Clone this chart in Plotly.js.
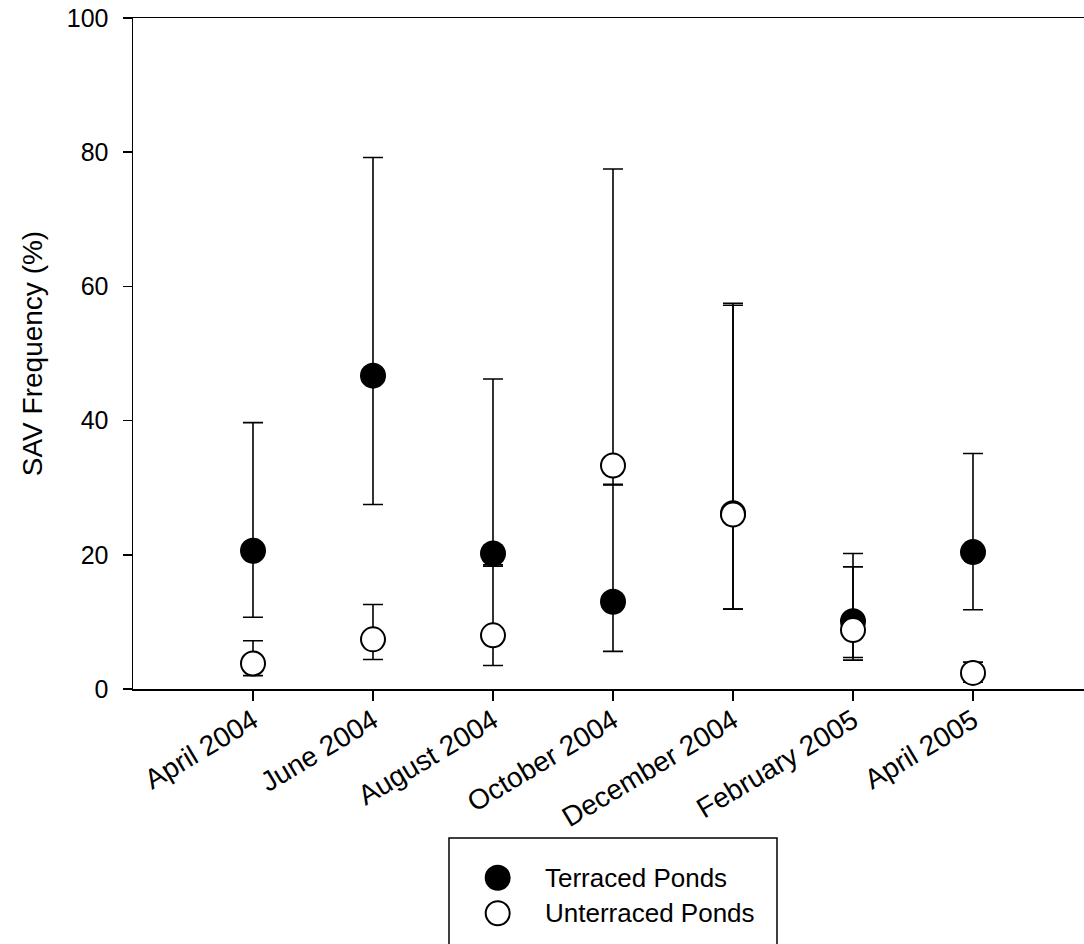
<!DOCTYPE html>
<html>
<head>
<meta charset="utf-8">
<script src="https://cdn.plot.ly/plotly-3.0.1.min.js"></script>
<style>html,body{margin:0;padding:0;background:#fff;}</style>
</head>
<body>
<div id="chart" style="width:1084px;height:944px;"></div>
<script>
var categories = ["April 2004","June 2004","August 2004","October 2004","December 2004","February 2005","April 2005"];
var terraced = [20.6, 46.7, 20.2, 13.0, 26.2, 10.1, 20.4];
var terracedUpper = [39.7, 79.2, 46.2, 30.4, 57.5, 20.2, 35.1];
var terracedLower = [10.7, 27.5, 18.3, 5.6, 11.9, 4.3, 11.8];
var unterraced = [3.8, 7.4, 8.0, 33.3, 26.0, 8.8, 2.4];
var unterracedUpper = [7.2, 12.6, 18.5, 77.5, 57.2, 18.2, 4.0];
var unterracedLower = [2.0, 4.4, 3.5, 30.5, 11.9, 4.7, 1.0];
var yTicks = [0, 20, 40, 60, 80, 100];
var seriesNames = ["Terraced Ponds", "Unterraced Ponds"];

var FONT = '"Liberation Sans", Arial, Helvetica, sans-serif';

function diffs(a, b) { return a.map(function (v, i) { return Math.abs(v - b[i]); }); }

var traces = [
  {
    type: 'scatter', mode: 'markers', name: seriesNames[0],
    x: categories, y: terraced,
    marker: { color: '#000', size: 26, line: { width: 0 } },
    error_y: { type: 'data', symmetric: false,
      array: diffs(terracedUpper, terraced), arrayminus: diffs(terraced, terracedLower),
      color: '#000', thickness: 1.6, width: 10 },
    showlegend: false, cliponaxis: false
  },
  {
    type: 'scatter', mode: 'markers', name: seriesNames[1],
    x: categories, y: unterraced,
    marker: { color: '#fff', size: 24, line: { color: '#000', width: 2 } },
    error_y: { type: 'data', symmetric: false,
      array: diffs(unterracedUpper, unterraced), arrayminus: diffs(unterraced, unterracedLower),
      color: '#000', thickness: 1.6, width: 10 },
    showlegend: false, cliponaxis: false
  }
];

// legend drawn as a box with marker symbols and text
var L = 133, T = 18, W = 951, H = 671;
function px(x) { return (x - L) / W; }
function py(y) { return (T + H - y) / H; }

var shapes = [
  { type: 'rect', xref: 'paper', yref: 'paper', x0: px(449), x1: px(777), y0: py(838), y1: py(960),
    line: { color: '#000', width: 1.5 }, fillcolor: 'rgba(0,0,0,0)' },
  { type: 'circle', xref: 'paper', yref: 'paper', xsizemode: 'pixel', ysizemode: 'pixel',
    xanchor: px(497.7), yanchor: py(877.7), x0: -13, x1: 13, y0: -13, y1: 13,
    fillcolor: '#000', line: { color: '#000', width: 0 } },
  { type: 'circle', xref: 'paper', yref: 'paper', xsizemode: 'pixel', ysizemode: 'pixel',
    xanchor: px(497.7), yanchor: py(913.3), x0: -12, x1: 12, y0: -12, y1: 12,
    fillcolor: '#fff', line: { color: '#000', width: 2 } }
];
var annotations = [
  { xref: 'paper', yref: 'paper', x: px(543), y: py(877.7), xanchor: 'left', yanchor: 'middle',
    text: seriesNames[0], showarrow: false, font: { family: FONT, size: 26, color: '#000' } },
  { xref: 'paper', yref: 'paper', x: px(543), y: py(913.3), xanchor: 'left', yanchor: 'middle',
    text: seriesNames[1], showarrow: false, font: { family: FONT, size: 26, color: '#000' } }
];

var layout = {
  width: 1084, height: 944,
  margin: { l: L, r: 0, t: T, b: 944 - T - H, pad: 0 },
  paper_bgcolor: '#fff', plot_bgcolor: '#fff',
  font: { family: FONT, color: '#000' },
  showlegend: false,
  xaxis: {
    type: 'category', range: [-1, 6.925], fixedrange: true,
    showgrid: false, zeroline: false,
    showline: true, linecolor: '#000', linewidth: 1.5, mirror: true,
    ticks: 'outside', ticklen: 10, tickwidth: 1.5, tickcolor: '#000',
    ticklabelstandoff: -7,
    tickangle: -31, tickfont: { family: FONT, size: 28, color: '#000' }
  },
  yaxis: {
    range: [0, 100], fixedrange: true,
    tickmode: 'array', tickvals: yTicks, ticktext: yTicks.map(String),
    showgrid: false, zeroline: false,
    showline: true, linecolor: '#000', linewidth: 1.5, mirror: false,
    ticks: 'outside', ticklen: 9, tickwidth: 1.5, tickcolor: '#000',
    ticklabelstandoff: 9,
    tickfont: { family: FONT, size: 25, color: '#000' },
    title: { text: 'SAV Frequency (%)', font: { family: FONT, size: 28, color: '#000' }, standoff: 16 }
  },
  shapes: shapes,
  annotations: annotations
};

Plotly.newPlot('chart', traces, layout, { staticPlot: true, displayModeBar: false });
</script>
</body>
</html>
